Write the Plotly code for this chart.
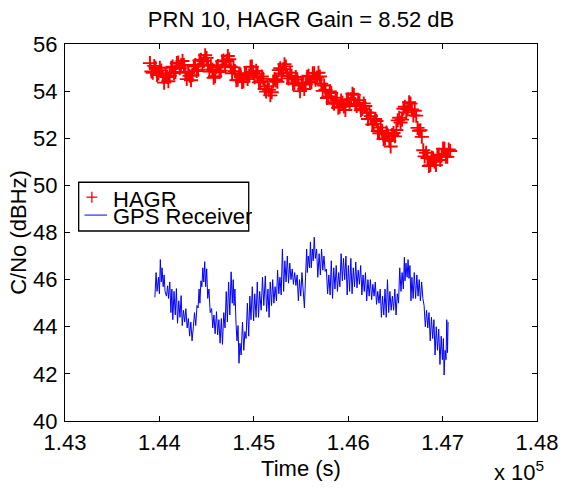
import plotly.graph_objects as go

title_text = "PRN 10, HAGR Gain = 8.52 dB"
x_title = "Time (s)"
y_title = "C/No (dBHz)"
x_ticks = [143000, 144000, 145000, 146000, 147000, 148000]
x_tick_labels = ["1.43", "1.44", "1.45", "1.46", "1.47", "1.48"]
y_ticks = [40, 42, 44, 46, 48, 50, 52, 54, 56]
legend_names = ["HAGR", "GPS Receiver"]
exponent_text = "x 10<sup>5</sup>"

# HAGR samples (two interleaved reads of the thick red band)
red_t = [143900, 143930, 143960, 143990, 144020, 144050, 144080, 144110, 144140, 144170,
         144200, 144230, 144260, 144290, 144320, 144350, 144380, 144410, 144440, 144470,
         144500, 144530, 144560, 144590, 144620, 144650, 144680, 144710, 144740, 144770,
         144800, 144830, 144860, 144890, 144920, 144950, 144980, 145010, 145040, 145070,
         145100, 145130, 145160, 145190, 145220, 145250, 145280, 145310, 145340, 145370,
         145400, 145430, 145460, 145490, 145520, 145550, 145580, 145610, 145640, 145670,
         145700, 145730, 145760, 145790, 145820, 145850, 145880, 145910, 145940, 145970,
         146000, 146030, 146060, 146090, 146120, 146150, 146180, 146210, 146240, 146270,
         146300, 146330, 146360, 146390, 146420, 146450, 146480, 146510, 146540, 146570,
         146600, 146630, 146660, 146690, 146720, 146750, 146780, 146810, 146840, 146870,
         146900, 146930, 146960, 146990, 147020, 147050, 147080]
red_v = [55.19, 54.78, 54.99, 54.75, 54.88, 54.36, 54.60, 54.65, 55.04, 54.81,
         55.21, 55.10, 55.11, 54.51, 54.65, 54.68, 55.11, 54.91, 55.33, 55.28,
         55.41, 54.83, 54.92, 54.63, 55.07, 54.87, 55.30, 55.28, 55.35, 54.76,
         54.85, 54.48, 54.69, 54.41, 54.74, 54.66, 55.04, 54.59, 54.73, 54.42,
         54.52, 53.98, 54.06, 53.95, 54.51, 54.40, 54.97, 54.93, 55.05, 54.54,
         54.65, 54.34, 54.50, 54.00, 54.30, 54.28, 54.65, 54.39, 54.76, 54.58,
         54.62, 54.01, 54.06, 53.76, 53.92, 53.46, 53.62, 53.34, 53.51, 53.20,
         53.65, 53.65, 53.84, 53.37, 53.51, 53.24, 53.37, 52.82, 52.94, 52.62,
         52.73, 52.21, 52.32, 51.99, 52.13, 51.65, 52.22, 52.35, 52.87, 52.79,
         53.34, 53.23, 53.47, 52.97, 52.96, 52.32, 52.06, 51.23, 51.16, 50.86,
         51.15, 50.86, 51.30, 51.27, 51.55, 51.21, 51.46]
red_t2 = [143915, 143945, 143975, 144005, 144035, 144065, 144095, 144125, 144155, 144185,
          144215, 144245, 144275, 144305, 144335, 144365, 144395, 144425, 144455, 144485,
          144515, 144545, 144575, 144605, 144635, 144665, 144695, 144725, 144755, 144785,
          144815, 144845, 144875, 144905, 144935, 144965, 144995, 145025, 145055, 145085,
          145115, 145145, 145175, 145205, 145235, 145265, 145295, 145325, 145355, 145385,
          145415, 145445, 145475, 145505, 145535, 145565, 145595, 145625, 145655, 145685,
          145715, 145745, 145775, 145805, 145835, 145865, 145895, 145925, 145955, 145985,
          146015, 146045, 146075, 146105, 146135, 146165, 146195, 146225, 146255, 146285,
          146315, 146345, 146375, 146405, 146435, 146465, 146495, 146525, 146555, 146585,
          146615, 146645, 146675, 146705, 146735, 146765, 146795, 146825, 146855, 146885,
          146915, 146945, 146975, 147005, 147035, 147065]
red_v2 = [54.83, 55.07, 54.68, 54.99, 54.62, 54.68, 54.42, 54.99, 54.77, 55.19,
          54.97, 55.28, 54.81, 54.78, 54.46, 55.04, 54.85, 55.30, 55.12, 55.52,
          55.12, 55.08, 54.57, 55.00, 54.81, 55.27, 55.10, 55.49, 55.05, 55.01,
          54.46, 54.73, 54.39, 54.76, 54.51, 55.03, 54.81, 54.86, 54.37, 54.62,
          54.09, 54.20, 53.82, 54.41, 54.45, 54.89, 54.75, 55.14, 54.64, 54.78,
          54.31, 54.60, 54.25, 54.35, 54.09, 54.61, 54.36, 54.76, 54.48, 54.78,
          54.31, 54.24, 53.71, 53.99, 53.53, 53.72, 53.29, 53.60, 53.35, 53.63,
          53.45, 53.89, 53.45, 53.62, 53.19, 53.48, 53.09, 53.08, 52.58, 52.82,
          52.31, 52.45, 51.97, 52.24, 51.89, 52.14, 52.08, 52.76, 52.67, 53.25,
          53.10, 53.53, 53.22, 53.17, 52.44, 52.34, 51.49, 51.38, 50.82, 51.18,
          51.00, 51.28, 51.08, 51.56, 51.22, 51.52]

# GPS receiver samples
blue_t = [143952, 143965, 143975, 143990, 144000, 144010, 144020, 144028, 144040, 144050,
          144060, 144075, 144087, 144097, 144110, 144122, 144132, 144142, 144155, 144168,
          144180, 144192, 144205, 144218, 144230, 144242, 144255, 144268, 144280, 144294,
          144307, 144320, 144333, 144346, 144360, 144372, 144385, 144398, 144410, 144420,
          144429, 144440, 144450, 144460, 144470, 144480, 144490, 144501, 144512, 144525,
          144538, 144553, 144565, 144578, 144590, 144605, 144617, 144630, 144643, 144656,
          144668, 144682, 144695, 144708, 144720, 144733, 144746, 144760, 144772, 144782,
          144791, 144800, 144812, 144822, 144833, 144843, 144853, 144866, 144880, 144894,
          144906, 144918, 144932, 144946, 144958, 144970, 144984, 144998, 145010, 145024,
          145037, 145050, 145062, 145078, 145092, 145106, 145122, 145136, 145150, 145162,
          145174, 145188, 145200, 145213, 145226, 145240, 145252, 145265, 145277, 145290,
          145303, 145316, 145329, 145342, 145355, 145368, 145381, 145394, 145407, 145420,
          145433, 145446, 145459, 145472, 145484, 145497, 145510, 145523, 145536, 145549,
          145560, 145567, 145577, 145590, 145600, 145609, 145620, 145630, 145640, 145652,
          145665, 145678, 145692, 145705, 145718, 145731, 145743, 145756, 145769, 145782,
          145795, 145808, 145821, 145834, 145847, 145860, 145873, 145886, 145899, 145912,
          145925, 145938, 145950, 145963, 145976, 145989, 146002, 146015, 146028, 146041,
          146054, 146067, 146080, 146093, 146106, 146119, 146132, 146145, 146157, 146170,
          146183, 146196, 146209, 146222, 146235, 146248, 146261, 146274, 146287, 146300,
          146313, 146326, 146339, 146352, 146364, 146377, 146390, 146403, 146416, 146429,
          146442, 146455, 146468, 146481, 146494, 146507, 146520, 146533, 146546, 146559,
          146571, 146584, 146595, 146602, 146612, 146624, 146634, 146644, 146654, 146665,
          146675, 146688, 146700, 146714, 146727, 146740, 146752, 146765, 146778, 146791,
          146804, 146817, 146830, 146843, 146856, 146869, 146882, 146895, 146908, 146920,
          146933, 146946, 146959, 146972, 146985, 146998, 147008, 147016, 147026, 147036,
          147044, 147052, 147058]
blue_v = [45.25, 46.30, 45.50, 46.10, 45.40, 46.85, 45.90, 46.50, 45.70, 46.20,
          45.50, 45.30, 45.74, 45.20, 45.90, 44.60, 45.60, 44.30, 45.50, 44.50,
          45.62, 44.15, 45.10, 44.40, 45.32, 44.05, 44.70, 44.20, 44.77, 43.95,
          44.35, 43.60, 44.20, 43.40, 44.00, 44.60, 44.05, 44.90, 44.80, 45.60,
          45.00, 45.95, 45.70, 46.50, 45.90, 46.76, 45.70, 46.46, 45.20, 45.60,
          44.60, 44.77, 43.95, 44.50, 43.70, 44.64, 43.65, 44.30, 43.30, 44.35,
          43.25, 44.60, 43.95, 45.49, 44.20, 45.90, 44.50, 46.33, 45.00, 46.00,
          44.90, 45.60, 44.10, 43.40, 44.05, 42.45, 43.30, 42.80, 44.20, 43.00,
          43.80, 43.50, 45.00, 43.60, 45.30, 44.30, 45.70, 44.25, 45.40, 44.40,
          45.90, 44.40, 45.50, 44.70, 46.10, 44.90, 46.16, 44.65, 45.60, 44.40,
          45.90, 44.90, 46.00, 45.00, 45.70, 45.10, 46.40, 45.40, 46.10, 45.35,
          47.30, 45.50, 46.80, 45.90, 47.00, 45.85, 46.70, 46.00, 46.45, 45.80,
          46.30, 45.75, 46.20, 45.10, 46.00, 45.30, 46.30, 45.40, 44.80, 46.20,
          47.30, 46.30, 47.00, 46.50, 47.60, 46.50, 47.30, 46.80, 47.80, 46.90,
          47.30, 46.10, 47.10, 46.20, 47.30, 46.40, 47.00, 46.35, 46.45, 45.40,
          46.20, 45.35, 46.80, 45.20, 46.50, 45.60, 46.60, 45.50, 46.30, 45.70,
          47.10, 45.95, 46.90, 46.00, 47.00, 45.35, 46.60, 45.50, 46.90, 45.40,
          46.50, 45.70, 46.75, 45.65, 46.40, 45.80, 46.60, 45.35, 46.20, 45.50,
          46.30, 45.10, 46.00, 45.30, 46.00, 45.15, 45.80, 45.30, 45.90, 44.95,
          45.50, 45.00, 45.60, 44.40, 45.30, 44.50, 45.60, 44.40, 46.00, 44.60,
          45.50, 44.70, 45.30, 44.70, 45.60, 44.50, 45.40, 45.00, 46.50, 45.50,
          46.30, 45.60, 46.95, 45.95, 46.70, 46.10, 46.85, 46.05, 46.60, 45.10,
          46.10, 45.20, 46.30, 45.20, 46.20, 45.30, 46.00, 45.10, 45.90, 45.20,
          44.90, 44.00, 44.70, 43.95, 44.60, 43.40, 44.40, 43.50, 44.30, 42.80,
          44.00, 43.00, 43.90, 42.40, 43.60, 42.60, 43.50, 41.95, 43.00, 42.60,
          44.30, 42.90, 44.20]

FONT = "Liberation Sans, Arial, sans-serif"
FS = 22
W, H = 570, 489
L, R, T, B = 65, 22, 44, 66
PW, PH = W - L - R, H - T - B


def px(x):
    return (x - L) / PW


def py(y):
    return 1 - (y - T) / PH


fig = go.Figure()
fig.add_trace(go.Scatter(
    x=red_t + red_t2, y=red_v + red_v2, mode="markers", name=legend_names[0],
    showlegend=False,
    marker=dict(symbol="cross-thin", size=10, color="#ff0000",
                line=dict(color="#ff0000", width=1.9)),
))
fig.add_trace(go.Scatter(
    x=blue_t, y=blue_v, mode="lines", name=legend_names[1], showlegend=False,
    line=dict(color="#0000ff", width=1),
))

axis_common = dict(
    showline=True, linecolor="black", linewidth=1, mirror="ticks",
    ticks="inside", ticklen=5, tickcolor="black", tickwidth=1,
    showgrid=False, zeroline=False,
    tickfont=dict(family=FONT, size=FS, color="black"),
)

shapes = [
    # legend box
    dict(type="rect", xref="paper", yref="paper", x0=px(79), x1=px(253), y0=py(232), y1=py(183),
         line=dict(color="black", width=1.3), fillcolor="white", layer="above"),
    # legend glyph: red plus
    dict(type="line", xref="paper", yref="paper", x0=px(87), x1=px(98), y0=py(198), y1=py(198),
         line=dict(color="#ff0000", width=1.3), layer="above"),
    dict(type="line", xref="paper", yref="paper", x0=px(92.5), x1=px(92.5), y0=py(192.5), y1=py(203.5),
         line=dict(color="#ff0000", width=1.3), layer="above"),
    # legend glyph: blue line
    dict(type="line", xref="paper", yref="paper", x0=px(85), x1=px(108), y0=py(216), y1=py(216),
         line=dict(color="#0000ff", width=1), layer="above"),
]

annotations = [
    dict(text=legend_names[0], xref="paper", yref="paper", x=px(112), y=py(200),
         xanchor="left", yanchor="middle", showarrow=False, height=17, valign="middle",
         font=dict(family=FONT, size=FS, color="black")),
    dict(text=legend_names[1], xref="paper", yref="paper", x=px(112), y=py(217),
         xanchor="left", yanchor="middle", showarrow=False, height=17, valign="middle",
         font=dict(family=FONT, size=FS, color="black")),
    dict(text=exponent_text, xref="paper", yref="paper", x=px(502), y=py(489),
         xanchor="left", yanchor="bottom", showarrow=False,
         font=dict(family=FONT, size=FS, color="black")),
]

fig.update_layout(
    width=W, height=H,
    margin=dict(l=L, r=R, t=T, b=B),
    paper_bgcolor="white", plot_bgcolor="white",
    font=dict(family=FONT, size=FS, color="black"),
    title=dict(text=title_text, x=0.5, xref="paper", xanchor="center",
               y=1 - 19 / H, yref="container", yanchor="middle",
               font=dict(family=FONT, size=FS, color="black")),
    xaxis=dict(range=[143000, 148000], tickmode="array", tickvals=x_ticks,
               ticktext=x_tick_labels, ticklabelstandoff=2,
               title=dict(text=x_title, standoff=6, font=dict(family=FONT, size=FS)),
               **axis_common),
    yaxis=dict(range=[40, 56], tickmode="array", tickvals=y_ticks, ticklabelstandoff=2,
               title=dict(text=y_title, standoff=0, font=dict(family=FONT, size=FS)),
               **axis_common),
    showlegend=False,
    shapes=shapes,
    annotations=annotations,
)

fig.write_html("out.html", config={"displayModeBar": False},
               post_script="document.body.style.margin='0';")
